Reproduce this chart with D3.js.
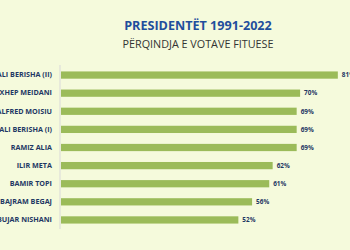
<!DOCTYPE html>
<html>
<head>
<meta charset="utf-8">
<script src="https://cdn.jsdelivr.net/npm/d3@7"></script>
<style>
  body { margin: 0; background: #f5fadc; }
  svg { display: block; }
</style>
</head>
<body>
<div id="chart"></div>
<script>
const names = ["SALI BERISHA (II)", "REXHEP MEIDANI", "ALFRED MOISIU", "SALI BERISHA (I)",
  "RAMIZ ALIA", "ILIR META", "BAMIR TOPI", "BAJRAM BEGAJ", "BUJAR NISHANI"];
const shares = [81, 70, 69, 69, 69, 62, 61, 56, 52];

const width = 350, height = 250;

const svg = d3.select("#chart")
  .append("svg")
    .attr("width", width)
    .attr("height", height);

svg.append("rect")
  .attr("width", width)
  .attr("height", height)
  .attr("fill", "#f5fadc");

// titles
svg.append("text")
  .attr("x", 198)
  .attr("y", 30)
  .attr("text-anchor", "middle")
  .attr("font-family", "'Open Sans', sans-serif")
  .attr("font-weight", "bold")
  .attr("font-size", 12.6)
  .attr("fill", "#1f4e9c")
  .text("PRESIDENTËT 1991-2022");

svg.append("text")
  .attr("x", 198)
  .attr("y", 48)
  .attr("text-anchor", "middle")
  .attr("font-family", "'Open Sans', sans-serif")
  .attr("font-size", 10.8)
  .attr("fill", "#333")
  .text("PËRQINDJA E VOTAVE FITUESE");

const x = d3.scaleLinear().domain([0, 100]).range([60, 403]);
const y = d3.scaleBand().domain(names).range([66, 229]).paddingInner(0.6).paddingOuter(0.3);

// category axis
svg.append("g")
  .attr("transform", "translate(60,0)")
  .call(d3.axisLeft(y).tickSize(0).tickPadding(8))
  .call(g => g.select(".domain").attr("stroke", "#d9d9d9").attr("d", "M0,65V229"))
  .call(g => g.selectAll("text")
    .attr("font-family", "'Open Sans', sans-serif")
    .attr("font-weight", "bold")
    .attr("font-size", 7.2)
    .attr("fill", "#1f3864"));

svg.selectAll(".bar")
  .data(names)
  .enter()
  .append("rect")
  .attr("class", "bar")
  .attr("x", x(0) + 1)
  .attr("y", d => y(d))
  .attr("width", (d, i) => x(shares[i]) - x(0) - 1)
  .attr("height", y.bandwidth())
  .attr("fill", "#9bbb59");

svg.selectAll(".val")
  .data(names)
  .enter()
  .append("text")
  .attr("class", "val")
  .attr("x", (d, i) => x(shares[i]) + 4)
  .attr("y", d => y(d) + y.bandwidth() / 2)
  .attr("dy", "0.35em")
  .attr("font-family", "'Open Sans', sans-serif")
  .attr("font-weight", "bold")
  .attr("font-size", 6.4)
  .attr("fill", "#1f3864")
  .text((d, i) => shares[i] + "%");
</script>
</body>
</html>
